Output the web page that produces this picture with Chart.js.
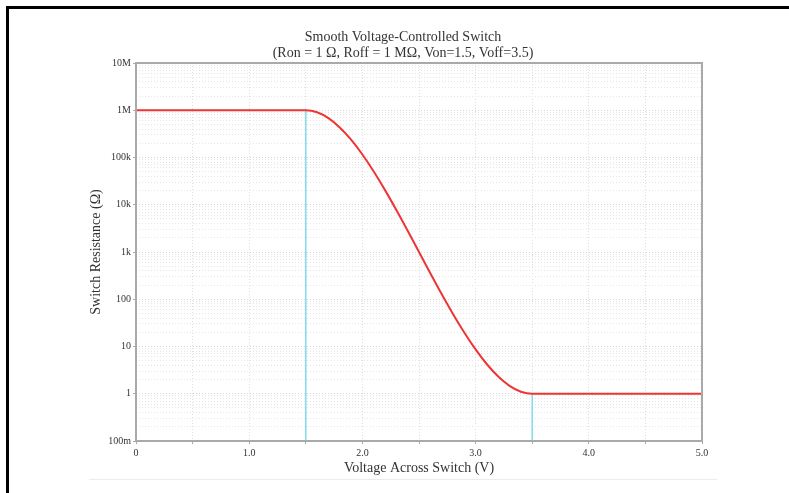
<!DOCTYPE html>
<html>
<head>
<meta charset="utf-8">
<script src="https://cdn.jsdelivr.net/npm/chart.js@4/dist/chart.umd.min.js"></script>
<style>
  html, body { margin: 0; padding: 0; background: #fff; }
  #wrap { position: relative; width: 789px; height: 493px; overflow: hidden; }
  #frame { position: absolute; left: 6px; top: 6px; width: 800px; height: 500px;
           border-top: 3px solid #000; border-left: 3px solid #000; box-sizing: border-box; }
  #rule { position: absolute; left: 89px; top: 479px; width: 628px; height: 1px; background: #efece4; }
  canvas { position: absolute; left: 0; top: 0; }
</style>
</head>
<body>
<div id="wrap">
  <canvas id="chart" width="789" height="493"></canvas>
  <div id="frame"></div>
  <div id="rule"></div>
</div>
<script>
// values
const voltage = [0, 1.5, 1.6, 1.7, 1.8, 1.9, 2.0, 2.1, 2.2, 2.3, 2.4, 2.5,
                 2.6, 2.7, 2.8, 2.9, 3.0, 3.1, 3.2, 3.3, 3.4, 3.5, 5.0];
const resistance = [1e6, 1e6, 905000, 679000, 432000, 238000, 115500, 50600, 20400, 7730, 2810, 1000,
                    356, 129, 49, 19.8, 8.66, 4.21, 2.31, 1.47, 1.105, 1, 1];

const vonMarker = [1.5, 1.5];
const vonMarkerR = [1e6, 0.1];
const voffMarker = [3.5, 3.5];
const voffMarkerR = [1, 0.1];

const yTickValues = [0.1, 1, 10, 100, 1e3, 1e4, 1e5, 1e6, 1e7];
const yTickLabels = ["100m", "1", "10", "100", "1k", "10k", "100k", "1M", "10M"];
const xTickLabels = ["0", "1.0", "2.0", "3.0", "4.0", "5.0"];

const titleLines = ["Smooth Voltage-Controlled Switch",
                    "(Ron = 1 \u03A9, Roff = 1 M\u03A9, Von=1.5, Voff=3.5)"];

const serif = "'Liberation Serif', 'DejaVu Serif', serif";

function pairs(xs, ys) {
  return xs.map((x, i) => ({ x: x, y: ys[i] }));
}

function isDecade(v) {
  return yTickValues.some(d => Math.abs(v / d - 1) < 1e-6);
}

const boxPlugin = {
  id: "box",
  afterDraw(chart) {
    const { ctx, chartArea: a } = chart;
    ctx.save();
    ctx.strokeStyle = "#a9a9a9";
    ctx.lineWidth = 2;
    ctx.strokeRect(a.left, a.top, a.right - a.left, a.bottom - a.top);
    ctx.fillStyle = "#333";
    ctx.font = "14px " + serif;
    ctx.textAlign = "center";
    ctx.textBaseline = "middle";
    ctx.fillText(titleLines[0], 403, 37);
    ctx.fillText(titleLines[1], 403, 53);
    ctx.restore();
  }
};

new Chart(document.getElementById("chart"), {
  type: "line",
  data: {
    datasets: [
      {
        label: "R",
        data: pairs(voltage, resistance),
        borderColor: "#ee3535",
        borderWidth: 2,
        pointRadius: 0,
        tension: 0.4,
        cubicInterpolationMode: "monotone",
        order: 0
      },
      {
        label: "Von",
        data: pairs(vonMarker, vonMarkerR),
        borderColor: "#7fdcec",
        borderWidth: 1.5,
        pointRadius: 0,
        order: 1
      },
      {
        label: "Voff",
        data: pairs(voffMarker, voffMarkerR),
        borderColor: "#7fdcec",
        borderWidth: 1.5,
        pointRadius: 0,
        order: 1
      }
    ]
  },
  options: {
    responsive: false,
    animation: false,
    layout: { padding: { top: 63, right: 87, left: 0, bottom: 0 } },
    plugins: {
      legend: { display: false },
      title: { display: false },
      tooltip: { enabled: false }
    },
    scales: {
      x: {
        type: "linear",
        min: 0,
        max: 5,
        afterFit(scale) { scale.height = 52; },
        ticks: {
          stepSize: 0.5,
          autoSkip: false,
          maxRotation: 0,
          padding: 3,
          color: "#333",
          font: { family: serif, size: 10 },
          callback(v) {
            return Number.isInteger(v) ? xTickLabels[v] : "";
          }
        },
        grid: {
          color: "#dedede",
          lineWidth: 1,
          tickLength: 3,
          tickColor: "#a9a9a9"
        },
        border: { display: false, dash: [1, 2] },
        title: {
          display: true,
          text: "Voltage Across Switch (V)",
          color: "#333",
          font: { family: serif, size: 14 },
          padding: { top: 0, bottom: 16 }
        }
      },
      y: {
        type: "logarithmic",
        min: 0.1,
        max: 1e7,
        afterFit(scale) { scale.width = 136; },
        afterBuildTicks(scale) {
          const ticks = [];
          for (let e = -1; e < 7; e++) {
            for (let k = 1; k < 10; k++) ticks.push({ value: k * Math.pow(10, e) });
          }
          ticks.push({ value: 1e7 });
          scale.ticks = ticks;
        },
        ticks: {
          autoSkip: false,
          padding: 2,
          color: "#333",
          font: { family: serif, size: 10 },
          callback(v) {
            const i = yTickValues.findIndex(d => Math.abs(v / d - 1) < 1e-6);
            return i >= 0 ? yTickLabels[i] : "";
          }
        },
        grid: {
          color: ctx => (ctx.tick && isDecade(ctx.tick.value)) ? "#d6d6d6" : "#e6e6e6",
          lineWidth: 1,
          tickLength: 3,
          tickColor: ctx => (ctx.tick && isDecade(ctx.tick.value)) ? "#a9a9a9" : "rgba(0,0,0,0)"
        },
        border: { display: false, dash: [1, 2] },
        title: {
          display: true,
          text: "Switch Resistance (\u03A9)",
          color: "#333",
          font: { family: serif, size: 14 },
          padding: { top: 88, bottom: 0 }
        }
      }
    }
  },
  plugins: [boxPlugin]
});
</script>
</body>
</html>
